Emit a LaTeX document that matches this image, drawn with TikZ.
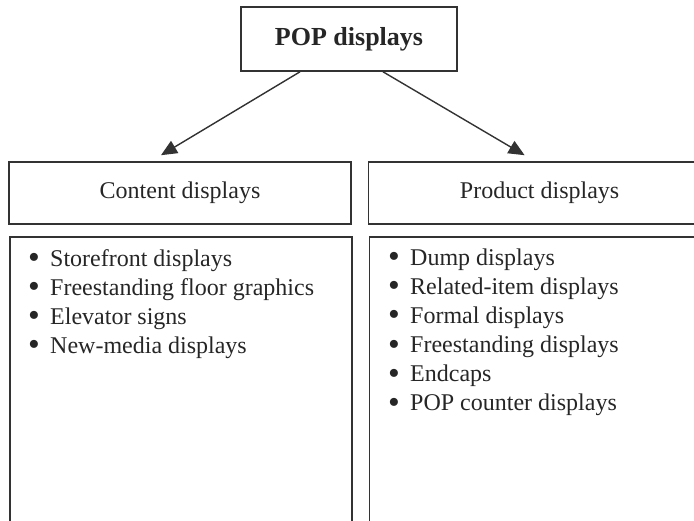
\documentclass[tikz,border=0pt]{standalone}
\usepackage{fontspec}
\setmainfont{Liberation Serif}
\usetikzlibrary{ arrows.meta, % For the filled arrow heads
                 positioning, % For easy node-relative placements
               }
\definecolor{linegray}{HTML}{333333}
\tikzstyle{link} = [-{Triangle[length=16pt,width=14pt]}, line width=1.4pt, draw=linegray]
\tikzstyle{box} = [rectangle, draw=linegray, line width=1.6pt, text=black!85, text centered, font=\fontsize{24}{29}\selectfont]
\tikzstyle{title_box} = [box, minimum width=216pt, minimum height=64pt, font=\fontsize{26}{31}\selectfont\bfseries]
\tikzstyle{head_box} = [box, minimum width=342pt, minimum height=62pt]
\tikzstyle{list_box} = [box, anchor=north west, minimum width=342pt, minimum height=320pt]
\tikzstyle{item} = [anchor=base west, inner sep=0pt, text=black!85, font=\fontsize{24}{29}\selectfont]
\newcommand{\bulletitem}[1]{\makebox[22pt][l]{\smash{\raisebox{-2pt}{\scalebox{1.4}{\textbullet}}}}#1}

\begin{document}
\begin{tikzpicture}[x=1pt, y=-1pt]
  \useasboundingbox (0,0) rectangle (694,521);
  \clip (0,0) rectangle (694,521);
  \node (pop) [title_box] at (349,39) {POP displays};
  \node (content) [head_box] at (180,193) {Content displays};
  \node (product) [head_box, right=16pt of content] {Product displays};
  \node (content_list) [list_box] at (9,236) {};
  \node (product_list) [list_box, right=16pt of content_list] {};
  % list entries
  \foreach \txt [count=\i] in {Storefront displays, Freestanding floor graphics, Elevator signs, New-media displays}
    \node (c\i) [item] at (28, 238+29*\i) {\bulletitem{\txt}};
  \foreach \txt [count=\i] in {Dump displays, Related-item displays, Formal displays, Freestanding displays, Endcaps, POP counter displays}
    \node (p\i) [item] at (388, 237+29*\i) {\bulletitem{\txt}};
  \draw [link] ([xshift=-49pt]pop.south) -- ([xshift=-19pt, yshift=6pt]content.north);
  \draw [link] ([xshift=34pt]pop.south) -- ([xshift=-15pt, yshift=6pt]product.north);
\end{tikzpicture}
\end{document}
